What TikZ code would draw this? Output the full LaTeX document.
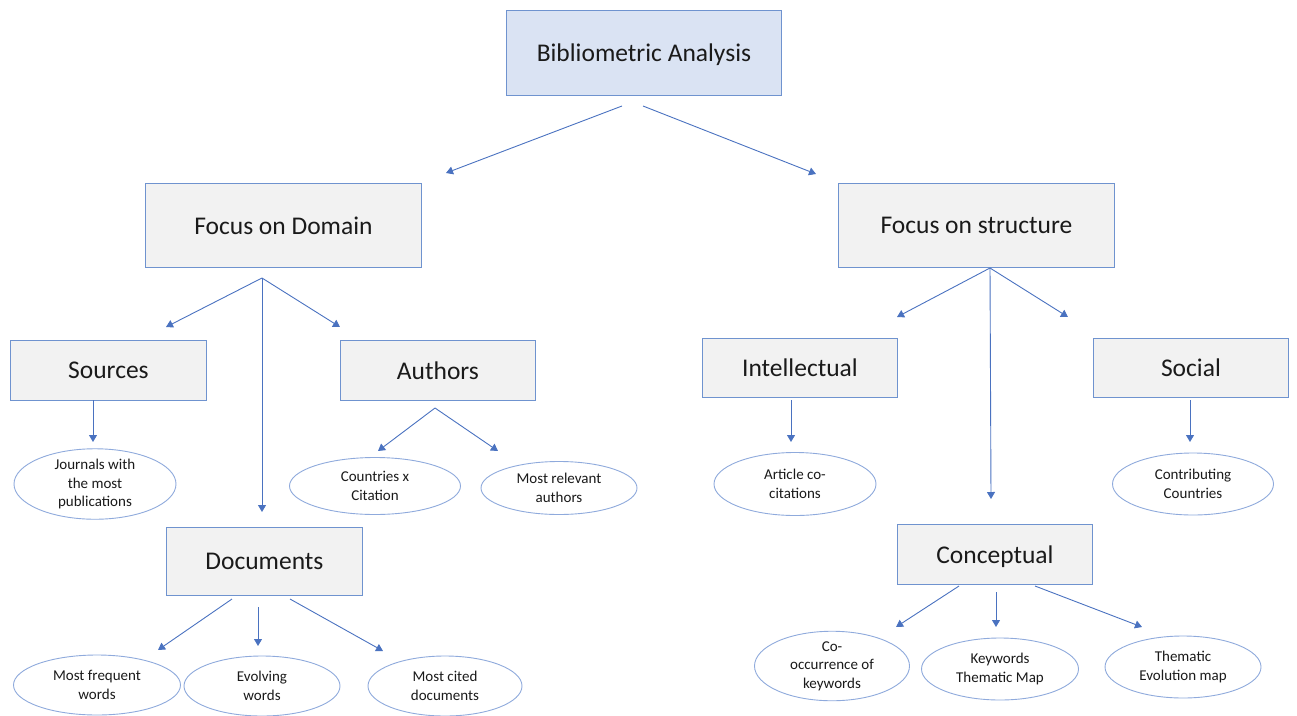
\documentclass[tikz,border=0pt]{standalone}
\usepackage{fontspec}
\setmainfont{Carlito}
\usetikzlibrary{shapes.geometric,arrows.meta}
\definecolor{bord}{HTML}{6F93CF}
\definecolor{ellb}{HTML}{8FAADC}
\definecolor{arrc}{HTML}{4A72C0}
\definecolor{topfill}{HTML}{DAE3F3}
\definecolor{greyfill}{HTML}{F2F2F2}
\definecolor{txt}{HTML}{1A1A1A}
\tikzset{
  x=1pt, y=-1pt,
  boxbase/.style={draw=bord, line width=0.9pt, inner sep=0pt, text=txt, text depth=0pt,
    font=\fontsize{25.5}{30}\selectfont, anchor=north west},
  topbox/.style={boxbase, fill=topfill},
  greybox/.style={boxbase, fill=greyfill},
  oval/.style={ellipse, draw=ellb, line width=0.9pt, fill=white, inner sep=0pt,
    align=center, text=txt, font=\fontsize{15}{18.5}\selectfont},
  arr/.style={draw=arrc, line width=0.9pt, -{Triangle[length=7pt,width=8pt]}}
}
\begin{document}
\begin{tikzpicture}
\useasboundingbox (0,0) rectangle (1297,715);
% boxes
\node[topbox, minimum width=275pt, minimum height=85pt] (top) at (506,10) {Bibliometric Analysis};
\node[greybox, minimum width=276pt, minimum height=84pt] (dom) at (145,183) {Focus on Domain};
\node[greybox, minimum width=276pt, minimum height=84pt] (str) at (838,183) {Focus on structure};
\node[greybox, minimum width=196pt, minimum height=60pt] (src) at (10,340) {Sources};
\node[greybox, minimum width=195pt, minimum height=60pt] (aut) at (340,340) {Authors};
\node[greybox, minimum width=196pt, minimum height=68pt] (doc) at (166,527) {Documents};
\node[greybox, minimum width=195pt, minimum height=59pt] (int) at (702,338) {Intellectual};
\node[greybox, minimum width=195pt, minimum height=59pt] (soc) at (1093,338) {Social};
\node[greybox, minimum width=195pt, minimum height=60pt] (con) at (897,524) {Conceptual};
% ellipses
\node[oval, minimum width=162pt, minimum height=62pt] (jour) at (95,484) {Journals with\\the most\\publications};
\node[oval, minimum width=171pt, minimum height=57pt] (ctry) at (375,486) {Countries x\\Citation};
\node[oval, minimum width=156pt, minimum height=53pt] (rel) at (559,488) {Most relevant\\authors};
\node[oval, minimum width=167pt, minimum height=60pt] (freq) at (97,685) {Most frequent\\words};
\node[oval, minimum width=156pt, minimum height=60pt] (evo) at (262,686) {Evolving\\words};
\node[oval, minimum width=154pt, minimum height=60pt] (cited) at (445,686) {Most cited\\documents};
\node[oval, minimum width=162pt, minimum height=63pt] (acc) at (795,484) {Article co-\\citations};
\node[oval, minimum width=161pt, minimum height=62pt] (contr) at (1193,484) {Contributing\\Countries};
\node[oval, minimum width=155pt, minimum height=61pt] (cooc) at (832,666) {Co-\\occurrence of\\keywords};
\node[oval, minimum width=157pt, minimum height=62pt] (kw) at (1000,669) {Keywords\\Thematic Map};
\node[oval, minimum width=156pt, minimum height=62pt] (them) at (1183,667) {Thematic\\Evolution map};
% connector end points
\coordinate (t1) at (622,106); \coordinate (t1e) at (446,173);
\coordinate (t2) at (643,106); \coordinate (t2e) at (816,174);
\coordinate (d0) at (262,278);
\coordinate (d1e) at (166,327); \coordinate (d2e) at (262,512); \coordinate (d3e) at (340,327);
\coordinate (s0) at (93,400); \coordinate (s0e) at (93,442);
\coordinate (a0) at (435,408); \coordinate (a1e) at (378,451); \coordinate (a2e) at (498,451);
\coordinate (o1) at (232,599); \coordinate (o1e) at (158,650);
\coordinate (o2) at (258,607); \coordinate (o2e) at (258,646);
\coordinate (o3) at (290,599); \coordinate (o3e) at (383,651);
\coordinate (r0) at (990,268);
\coordinate (r1e) at (897,317); \coordinate (r2e) at (991,499); \coordinate (r3e) at (1068,317);
\coordinate (i0) at (791,400); \coordinate (i0e) at (791,442);
\coordinate (so0) at (1190,400); \coordinate (so0e) at (1190,442);
\coordinate (c1) at (959,586); \coordinate (c1e) at (896,627);
\coordinate (c2) at (996,592); \coordinate (c2e) at (996,627);
\coordinate (c3) at (1035,586); \coordinate (c3e) at (1142,627);
% connectors
\draw[arr] (t1) -- (t1e);
\draw[arr] (t2) -- (t2e);
\draw[arr] (d0) -- (d1e);
\draw[arr] (d0) -- (d2e);
\draw[arr] (d0) -- (d3e);
\draw[arr] (s0) -- (s0e);
\draw[arr] (a0) -- (a1e);
\draw[arr] (a0) -- (a2e);
\draw[arr] (o1) -- (o1e);
\draw[arr] (o2) -- (o2e);
\draw[arr] (o3) -- (o3e);
\draw[arr] (r0) -- (r1e);
\draw[arr] (r0) -- (r2e);
\draw[arr] (r0) -- (r3e);
\draw[arr] (i0) -- (i0e);
\draw[arr] (so0) -- (so0e);
\draw[arr] (c1) -- (c1e);
\draw[arr] (c2) -- (c2e);
\draw[arr] (c3) -- (c3e);
\end{tikzpicture}
\end{document}
